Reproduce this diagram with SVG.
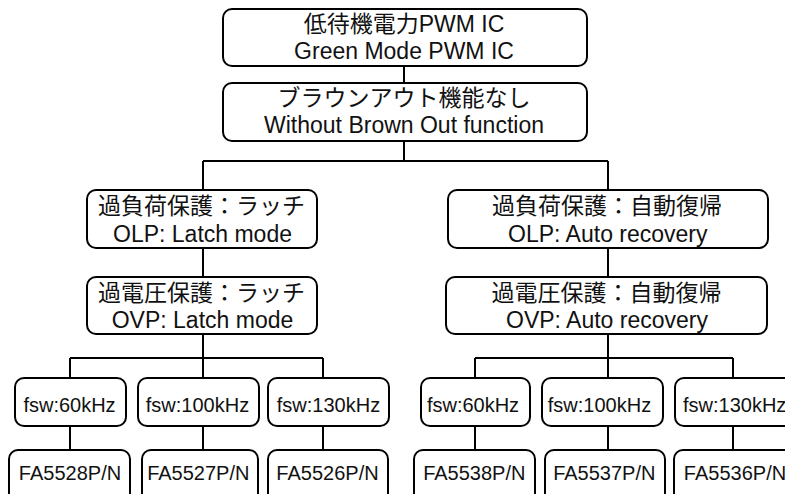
<svg xmlns="http://www.w3.org/2000/svg" width="785" height="494" viewBox="0 0 785 494">
<style>
.box{fill:#fff;stroke:#000;stroke-width:2}
.c{fill:none;stroke:#000;stroke-width:2}
text{font-family:"Liberation Sans","Noto Sans CJK JP",sans-serif;fill:#111;text-anchor:middle}
.jp{font-size:23px}
.en{font-size:23px}
.sm{font-size:20px}
</style>
<rect width="785" height="494" fill="#fff"/>
<g id="connectors">
<path class="c" d="M404 66V83"/>
<path class="c" d="M404 141V161M203 161H608M203 161V190M608 161V190"/>
<path class="c" d="M203 248V277M608 248V277"/>
<path class="c" d="M203 334V358M70 358H323M70 358V378M203 358V378M323 358V378"/>
<path class="c" d="M608 334V358M475 358H733M475 358V378M608 358V378M733 358V378"/>
<path class="c" d="M70 426V450M203 426V450M323 426V450M475 426V450M608 426V450M733 426V450"/>
</g>
<g id="n1"><rect class="box" x="223" y="9" width="364" height="57" rx="9"/>
<text class="jp" x="404" y="32">低待機電力PWM IC</text>
<text class="en" x="404" y="59">Green Mode PWM IC</text></g>
<g id="n2"><rect class="box" x="223" y="83" width="364" height="58" rx="9"/>
<text class="jp" x="404" y="106">ブラウンアウト機能なし</text>
<text class="en" x="404" y="133">Without Brown Out function</text></g>
<g id="n3"><rect class="box" x="87" y="190" width="230" height="58" rx="9"/>
<text class="jp" x="201.5" y="214">過負荷保護：ラッチ</text>
<text class="en" x="202.5" y="241.5">OLP: Latch mode</text></g>
<g id="n4"><rect class="box" x="87" y="277" width="230" height="57" rx="9"/>
<text class="jp" x="201.5" y="300.5">過電圧保護：ラッチ</text>
<text class="en" x="202.5" y="328">OVP: Latch mode</text></g>
<g id="n5"><rect class="box" x="448" y="190" width="320" height="58" rx="9"/>
<text class="jp" x="607" y="214">過負荷保護：自動復帰</text>
<text class="en" x="607.8" y="241.5">OLP: Auto recovery</text></g>
<g id="n6"><rect class="box" x="446" y="277" width="321" height="57" rx="9"/>
<text class="jp" x="606.5" y="300.5">過電圧保護：自動復帰</text>
<text class="en" x="607" y="328">OVP: Auto recovery</text></g>
<g id="n7"><rect class="box" x="15" y="378" width="111" height="48" rx="9"/>
<text class="sm" x="69.5" y="411.5">fsw:60kHz</text></g>
<g id="n8"><rect class="box" x="138" y="378" width="121" height="48" rx="9"/>
<text class="sm" x="197.5" y="411.5">fsw:100kHz</text></g>
<g id="n9"><rect class="box" x="268" y="378" width="121" height="48" rx="9"/>
<text class="sm" x="328.5" y="411.5">fsw:130kHz</text></g>
<g id="n10"><rect class="box" x="421" y="378" width="109" height="48" rx="9"/>
<text class="sm" x="473" y="411.5">fsw:60kHz</text></g>
<g id="n11"><rect class="box" x="542" y="378" width="121" height="48" rx="9"/>
<text class="sm" x="599.5" y="411.5">fsw:100kHz</text></g>
<g id="n12"><rect class="box" x="675" y="378" width="121" height="48" rx="9"/>
<text class="sm" x="734.7" y="411.5">fsw:130kHz</text></g>
<g id="n13"><rect class="box" x="9" y="450" width="121" height="60" rx="9"/>
<text class="sm" x="70" y="480">FA5528P/N</text></g>
<g id="n14"><rect class="box" x="142" y="450" width="116" height="60" rx="9"/>
<text class="sm" x="198.3" y="480">FA5527P/N</text></g>
<g id="n15"><rect class="box" x="268" y="450" width="120" height="60" rx="9"/>
<text class="sm" x="327.5" y="480">FA5526P/N</text></g>
<g id="n16"><rect class="box" x="414" y="450" width="121" height="60" rx="9"/>
<text class="sm" x="474.3" y="480">FA5538P/N</text></g>
<g id="n17"><rect class="box" x="545" y="450" width="120" height="60" rx="9"/>
<text class="sm" x="604.3" y="480">FA5537P/N</text></g>
<g id="n18"><rect class="box" x="674" y="450" width="122" height="60" rx="9"/>
<text class="sm" x="735" y="480">FA5536P/N</text></g>
</svg>
